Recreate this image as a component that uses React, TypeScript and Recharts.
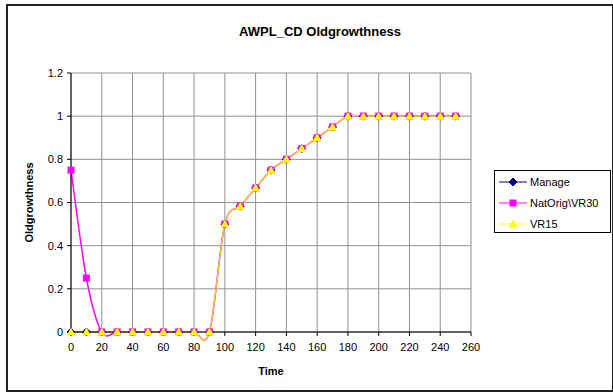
import React from "react";
import { LineChart, Line, XAxis, YAxis, CartesianGrid } from "recharts";

const times = [0, 10, 20, 30, 40, 50, 60, 70, 80, 90, 100, 110, 120, 130, 140, 150, 160, 170, 180, 190, 200, 210, 220, 230, 240, 250];
const manage = [0, 0, 0, 0, 0, 0, 0, 0, 0, 0, 0.5, 0.583, 0.667, 0.75, 0.8, 0.85, 0.9, 0.95, 1, 1, 1, 1, 1, 1, 1, 1];
const natOrig = [0.75, 0.25, 0, 0, 0, 0, 0, 0, 0, 0, 0.5, 0.583, 0.667, 0.75, 0.8, 0.85, 0.9, 0.95, 1, 1, 1, 1, 1, 1, 1, 1];
const vr15 = [0, 0, 0, 0, 0, 0, 0, 0, 0, 0, 0.5, 0.583, 0.667, 0.75, 0.8, 0.85, 0.9, 0.95, 1, 1, 1, 1, 1, 1, 1, 1];
const xTicks = [0, 20, 40, 60, 80, 100, 120, 140, 160, 180, 200, 220, 240, 260];
const yTicks = [0, 0.2, 0.4, 0.6, 0.8, 1, 1.2];

const data = times.map((t, i) => ({ t, manage: manage[i], natOrig: natOrig[i], vr15: vr15[i] }));

const FONT = "'Liberation Sans', Arial, sans-serif";

// Excel-style smoothed line (Catmull-Rom as cubic beziers)
const excelSmooth: any = (context: any) => {
  let pts: number[][] = [];
  return {
    areaStart() {},
    areaEnd() {},
    lineStart() {
      pts = [];
    },
    point(x: number, y: number) {
      pts.push([+x, +y]);
    },
    lineEnd() {
      const n = pts.length;
      if (!n) return;
      context.moveTo(pts[0][0], pts[0][1]);
      for (let i = 0; i < n - 1; i++) {
        const p0 = pts[i === 0 ? 0 : i - 1];
        const p1 = pts[i];
        const p2 = pts[i + 1];
        const p3 = pts[i + 2 < n ? i + 2 : n - 1];
        context.bezierCurveTo(
          p1[0] + (p2[0] - p0[0]) / 6,
          p1[1] + (p2[1] - p0[1]) / 6,
          p2[0] - (p3[0] - p1[0]) / 6,
          p2[1] - (p3[1] - p1[1]) / 6,
          p2[0],
          p2[1]
        );
      }
    },
  };
};

const Diamond = (props: any) => {
  const { cx, cy } = props;
  if (cx == null || cy == null) return null;
  return <path d={`M${cx},${cy - 4}L${cx + 4},${cy}L${cx},${cy + 4}L${cx - 4},${cy}Z`} fill="#000080" stroke="#000080" />;
};

const Square = (props: any) => {
  const { cx, cy } = props;
  if (cx == null || cy == null) return null;
  return <rect x={cx - 3.5} y={cy - 3.5} width={7} height={7} fill="#FF00FF" />;
};

const Triangle = (props: any) => {
  const { cx, cy } = props;
  if (cx == null || cy == null) return null;
  return <path d={`M${cx},${cy - 4.5}L${cx + 4.5},${cy + 3.5}L${cx - 4.5},${cy + 3.5}Z`} fill="#FFFF00" />;
};

const legendItems = [
  { name: "Manage", color: "#000080", Marker: Diamond },
  { name: "NatOrig\\VR30", color: "#FF00FF", Marker: Square },
  { name: "VR15", color: "#FFFF00", Marker: Triangle },
];

export default function App() {
  return (
    <div style={{ position: "relative", width: 613, height: 392, background: "#fff", fontFamily: FONT, overflow: "hidden" }}>
      <style>{`body{margin:0}`}</style>
      <div
        style={{
          position: "absolute",
          left: 6,
          top: 4,
          width: 604,
          height: 384,
          border: "2px solid #222",
        }}
      />
      <div
        style={{
          position: "absolute",
          left: 0,
          width: 640,
          top: 24,
          textAlign: "center",
          fontWeight: "bold",
          fontSize: 13,
        }}
      >
        AWPL_CD Oldgrowthness
      </div>
      <div style={{ position: "absolute", left: 0, top: 0 }}>
        <LineChart width={613} height={392} data={data} margin={{ top: 73, right: 142, bottom: 15, left: 0 }}>
          <CartesianGrid stroke="#909090" strokeWidth={1} />
          <XAxis
            dataKey="t"
            type="number"
            domain={[0, 260]}
            ticks={xTicks}
            interval={0}
            height={45}
            tickSize={4}
            tickMargin={7}
            stroke="#000"
            tick={{ fill: "#000", fontSize: 11, fontFamily: FONT }}
            label={{ value: "Time", position: "insideBottom", offset: 2, fill: "#000", fontSize: 11, fontWeight: "bold", fontFamily: FONT }}
          />
          <YAxis
            type="number"
            domain={[0, 1.2]}
            ticks={yTicks}
            interval={0}
            width={71}
            tickSize={4}
            tickMargin={4}
            stroke="#000"
            tick={{ fill: "#000", fontSize: 11, fontFamily: FONT }}
            label={{
              value: "Oldgrowthness",
              angle: -90,
              position: "insideLeft",
              offset: 29,
              style: { textAnchor: "middle" },
              fill: "#000",
              fontSize: 11,
              fontWeight: "bold",
              fontFamily: FONT,
            }}
          />
          <Line dataKey="manage" type={excelSmooth} stroke="#000080" strokeWidth={1} dot={<Diamond />} isAnimationActive={false} />
          <Line dataKey="natOrig" type={excelSmooth} stroke="#FF00FF" strokeWidth={1.5} dot={<Square />} isAnimationActive={false} />
          <Line dataKey="vr15" type={excelSmooth} stroke="#FFFF00" strokeWidth={1.5} strokeOpacity={0.75} dot={<Triangle />} isAnimationActive={false} />
        </LineChart>
      </div>
      <div
        style={{
          position: "absolute",
          left: 494,
          top: 170,
          width: 117,
          height: 63,
          border: "1px solid #000",
          boxSizing: "border-box",
          background: "#fff",
          fontSize: 11,
        }}
      >
        {legendItems.map((it, i) => (
          <div key={it.name} style={{ position: "absolute", left: 0, top: 3 + i * 21, height: 16, display: "flex", alignItems: "center" }}>
            <svg width={34} height={16}>
              <line x1={4} x2={32} y1={8} y2={8} stroke={it.color} strokeWidth={1} />
              <it.Marker cx={18} cy={8} />
            </svg>
            <span style={{ marginLeft: 1 }}>{it.name}</span>
          </div>
        ))}
      </div>
    </div>
  );
}
